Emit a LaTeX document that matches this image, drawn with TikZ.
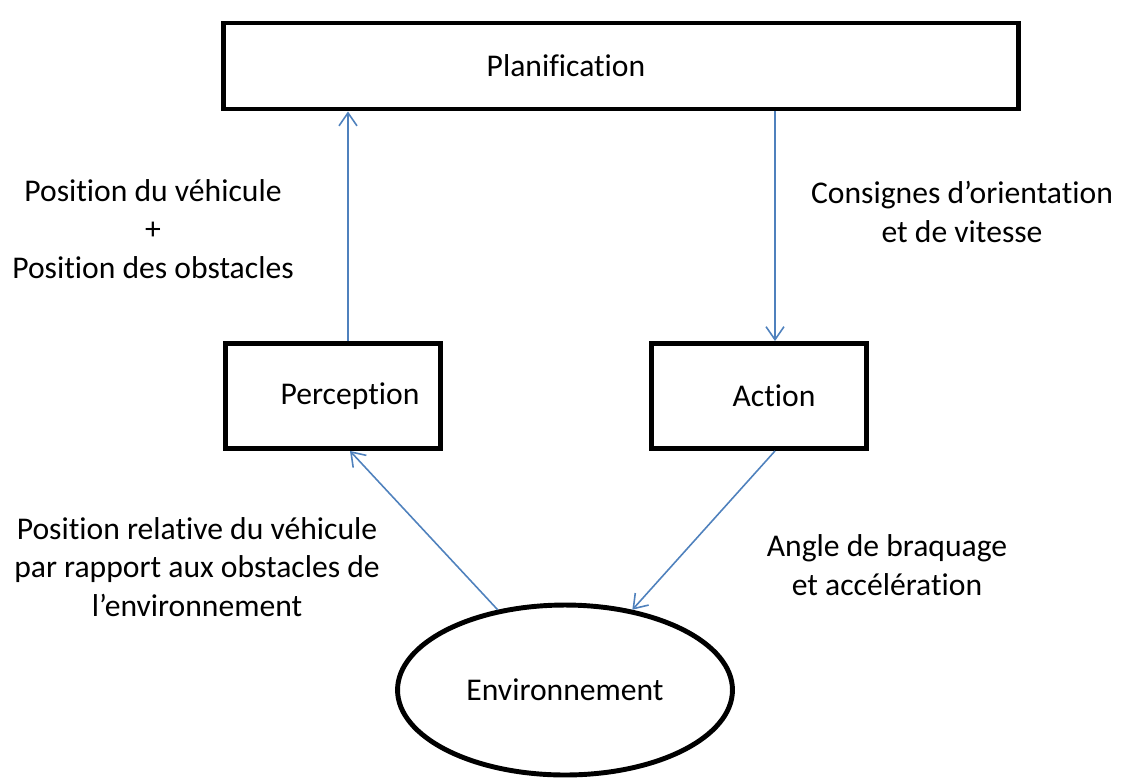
\documentclass[tikz,border=0pt]{standalone}
\usepackage{fontspec}
\setmainfont{Carlito}[Ligatures=NoCommon]
\usetikzlibrary{arrows.meta,shapes.geometric}
\definecolor{flowblue}{RGB}{79,129,189}

\begin{document}
\begin{tikzpicture}[x=0.02cm,y=-0.02cm,
  font=\fontsize{18}{22}\selectfont,
  bloc/.style={draw,line width=2.8pt,rectangle,inner sep=0pt},
  flow/.style={flowblue,line width=0.9pt,-{Straight Barb[length=2.6mm,width=3.6mm]}},
  lbl/.style={align=center,inner sep=0pt}]
  \useasboundingbox (0,0) rectangle (1125,782);
  % blocs
  \node[bloc,minimum width=15.9cm,minimum height=1.72cm] (plan) at (621,66) {};
  \node[bloc,minimum width=4.3cm,minimum height=2.1cm] (perc) at (333,396) {};
  \node[bloc,minimum width=4.3cm,minimum height=2.1cm] (act) at (759,396) {};
  \node[draw,ellipse,line width=2.8pt,minimum width=6.7cm,minimum height=3.4cm] (env) at (565,690) {Environnement};
  \node (tplan) at (566,66) {Planification};
  \node (tperc) at (350,396) {Perception};
  \node (tact) at (774,396) {Action};
  % fleches
  \coordinate (pu) at ([xshift=0.3cm]perc.north);
  \coordinate (ad) at ([xshift=0.32cm]act.north);
  \draw[flow] (pu) -- (pu |- plan.south);
  \draw[flow] (ad |- plan.south) -- (ad);
  \draw[flow] (env.130) -- ([xshift=0.34cm]perc.south);
  \draw[flow] ([xshift=0.32cm]act.south) -- (env.50);
  % etiquettes
  \node[lbl] (lperc) at (153,229) {Position du véhicule\\+\\Position des obstacles};
  \node[lbl] (lact) at (962,212) {Consignes d’orientation\\et de vitesse};
  \node[lbl] (lenv) at (197,567) {Position relative du véhicule\\par rapport aux obstacles de\\l’environnement};
  \node[lbl] (lcmd) at (887,565) {Angle de braquage\\et accélération};
\end{tikzpicture}
\end{document}
